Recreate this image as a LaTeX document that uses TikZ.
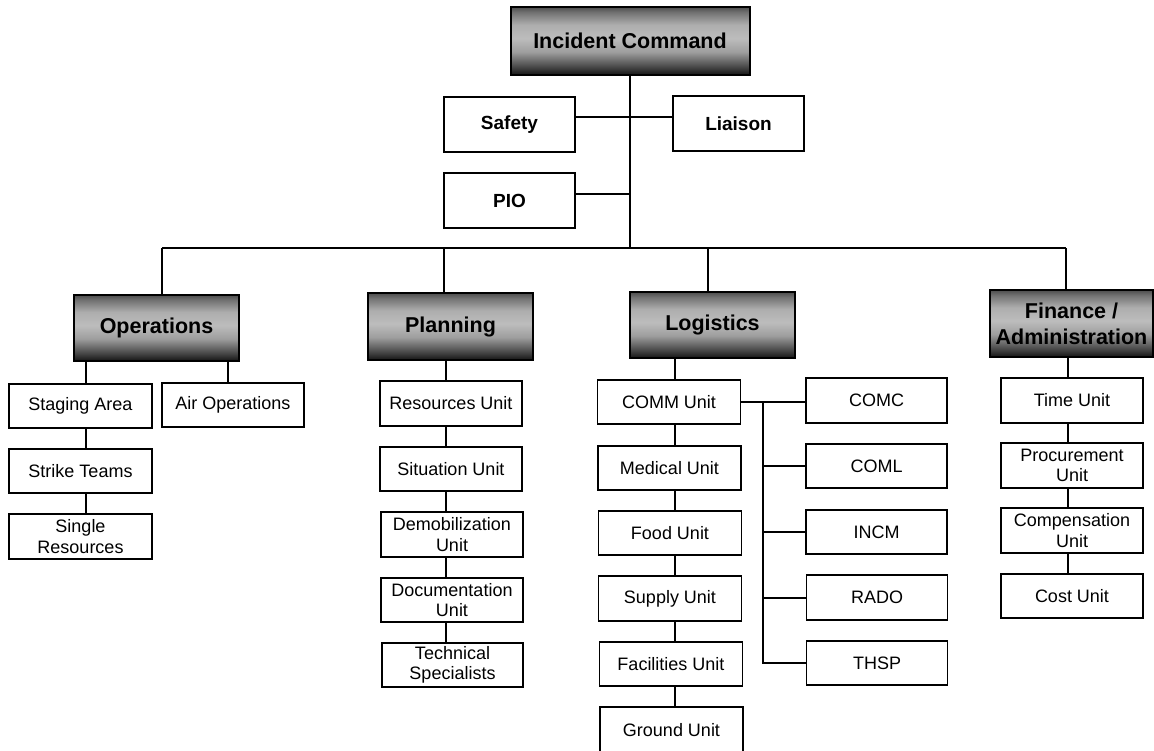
\documentclass[tikz,border=0pt]{standalone}
\usepackage{fontspec}
\setmainfont{Liberation Sans}
% grey band shading for the section heads: dark edges, light centre
\pgfdeclareverticalshading{headshade}{100bp}{%
  color(0bp)=(black!92); color(25bp)=(black!92); color(31bp)=(black!72);
  color(42bp)=(black!38); color(52bp)=(black!26); color(62bp)=(black!32);
  color(71bp)=(black!55); color(75bp)=(black!70); color(100bp)=(black!70)}
\begin{document}
\begin{tikzpicture}[x=1pt,y=-1pt,
  every node/.style={inner sep=0pt, outer sep=0pt, anchor=center, align=center},
  head/.style={draw=black, line width=2pt, shading=headshade,
    font=\bfseries\fontsize{21.5}{26}\selectfont},
  staff/.style={draw=black, line width=1.5pt, fill=white,
    minimum width=131pt, minimum height=55pt,
    font=\bfseries\fontsize{19}{22}\selectfont},
  unit/.style={draw=black, line width=1.4pt, fill=white,
    minimum width=143pt, minimum height=44pt,
    font=\fontsize{18}{20.5}\selectfont},
  link/.style={draw=black, line width=2pt}]

\useasboundingbox[fill=white] (0,0) rectangle (1154,750);

% command and general staff
\node[head, minimum width=239pt, minimum height=68pt] (ic) at (630,41) {Incident Command};
\node[staff] (safety)  at (509.5,124.5) {Safety};
\node[staff] (liaison) at (738.5,123.5) {Liaison};
\node[staff] (pio)     at (509.5,200.5) {PIO};

\node[head, minimum width=165pt, minimum height=66pt] (ops)  at (156.5,328) {Operations};
\node[head, minimum width=165pt, minimum height=67pt] (plan) at (450.5,326.5) {Planning};
\node[head, minimum width=165pt, minimum height=66pt] (log)  at (712.5,325) {Logistics};
\node[head, minimum width=163pt, minimum height=67pt] (fin)  at (1071.5,323.5) {Finance /\\Administration};

% operations section
\node[unit] (staging) at (80.5,406)   {Staging Area};
\node[unit, minimum width=142pt] (air) at (233,405) {Air Operations};
\node[unit] (strike)  at (80.5,471)   {Strike Teams};
\node[unit, minimum height=45pt] (single) at (80.5,536.5) {Single\\Resources};

% planning section
\node[unit, minimum width=142pt, minimum height=45pt] (resources) at (451,403.5) {Resources Unit};
\node[unit, minimum width=142pt] (situation) at (451,469) {Situation Unit};
\node[unit, minimum width=142pt, minimum height=45pt] (demob) at (452,534.5) {Demobilization\\Unit};
\node[unit, minimum width=142pt] (docu) at (452,600) {Documentation\\Unit};
\node[unit, minimum width=141pt] (tech) at (452.5,665) {Technical\\Specialists};

% logistics section
\node[unit] (comm)       at (669,402)   {COMM Unit};
\node[unit] (medical)    at (669.5,468) {Medical Unit};
\node[unit] (food)       at (670,533)   {Food Unit};
\node[unit, minimum height=45pt] (supply) at (670,598.5) {Supply Unit};
\node[unit] (facilities) at (671,664)   {Facilities Unit};
\node[unit, minimum height=46pt] (ground) at (671.5,730) {Ground Unit};

\node[unit, minimum width=141pt, minimum height=45pt] (comc) at (876.5,400.5) {COMC};
\node[unit, minimum width=141pt] (coml) at (876.5,466) {COML};
\node[unit, minimum width=141pt] (incm) at (876.5,532) {INCM};
\node[unit, minimum width=141pt, minimum height=45pt] (rado) at (877,597.5) {RADO};
\node[unit, minimum width=141pt] (thsp) at (877,663) {THSP};

% finance / administration section
\node[unit, minimum width=142pt, minimum height=45pt] (time) at (1072,400.5) {Time Unit};
\node[unit, minimum width=142pt, minimum height=45pt] (procure) at (1072,465.5) {Procurement\\Unit};
\node[unit, minimum width=142pt, minimum height=45pt] (compens) at (1072,530.5) {Compensation\\Unit};
\node[unit, minimum width=142pt] (cost) at (1072,596) {Cost Unit};

% connector columns and the main bus
\coordinate (trunk)  at (630,248);
\coordinate (busops) at (162,248);
\coordinate (busplan) at (444,248);
\coordinate (buslog) at (708,248);
\coordinate (busfin) at (1066,248);
\coordinate (xstage) at (86,0);
\coordinate (xair)   at (228,0);
\coordinate (xplan)  at (446,0);
\coordinate (xlog)   at (675,0);
\coordinate (xradio) at (763,0);
\coordinate (xfin)   at (1068,0);

% command staff links
\draw[link] (ic.south) -- (trunk);
\draw[link] ([yshift=7.5pt]safety.east) -- ([yshift=7.5pt]safety.east -| liaison.west);
\draw[link] ([yshift=6.5pt]pio.east) -- ([yshift=6.5pt]pio.east -| trunk);
\draw[link] (busops) -- (busfin);
\draw[link] (busops) -- (busops |- ops.north);
\draw[link] (busplan) -- (busplan |- plan.north);
\draw[link] (buslog) -- (buslog |- log.north);
\draw[link] (busfin) -- (busfin |- fin.north);

% operations links
\draw[link] (ops.south -| xstage) -- (staging.north -| xstage);
\draw[link] (ops.south -| xair) -- (air.north -| xair);
\draw[link] (staging.south -| xstage) -- (strike.north -| xstage);
\draw[link] (strike.south -| xstage) -- (single.north -| xstage);

% planning links
\draw[link] (plan.south -| xplan) -- (resources.north -| xplan);
\draw[link] (resources.south -| xplan) -- (situation.north -| xplan);
\draw[link] (situation.south -| xplan) -- (demob.north -| xplan);
\draw[link] (demob.south -| xplan) -- (docu.north -| xplan);
\draw[link] (docu.south -| xplan) -- (tech.north -| xplan);

% logistics links
\draw[link] (log.south -| xlog) -- (comm.north -| xlog);
\draw[link] (comm.south -| xlog) -- (medical.north -| xlog);
\draw[link] (medical.south -| xlog) -- (food.north -| xlog);
\draw[link] (food.south -| xlog) -- (supply.north -| xlog);
\draw[link] (supply.south -| xlog) -- (facilities.north -| xlog);
\draw[link] (facilities.south -| xlog) -- (ground.north -| xlog);

% communications unit positions
\draw[link] (comm.east) -- (comm.east -| comc.west);
\draw[link] (comm.east -| xradio) -- (thsp.west -| xradio) -- (thsp.west);
\draw[link] (coml.west -| xradio) -- (coml.west);
\draw[link] (incm.west -| xradio) -- (incm.west);
\draw[link] (rado.west -| xradio) -- (rado.west);

% finance links
\draw[link] (fin.south -| xfin) -- (time.north -| xfin);
\draw[link] (time.south -| xfin) -- (procure.north -| xfin);
\draw[link] (procure.south -| xfin) -- (compens.north -| xfin);
\draw[link] (compens.south -| xfin) -- (cost.north -| xfin);
\end{tikzpicture}
\end{document}
